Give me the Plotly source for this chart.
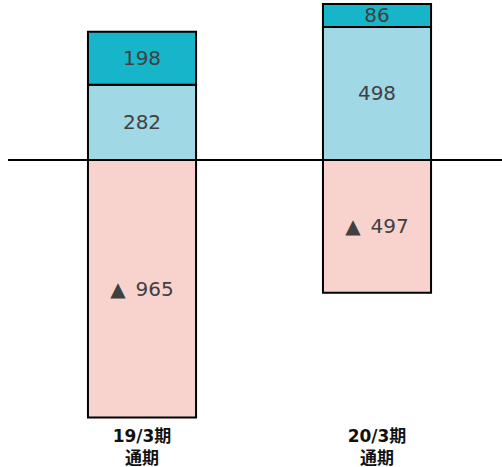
import plotly.graph_objects as go

categories = ["19/3期<br>通期", "20/3期<br>通期"]
neg_values = [-965, -497]
lower_values = [282, 498]
upper_values = [198, 86]

def fmt(v):
    return ("▲\u2002" + str(abs(v))) if v < 0 else str(v)

x = [0, 1]
common = dict(width=0.46, marker_line_color="#000000", marker_line_width=2,
              textposition="inside", insidetextanchor="middle", textangle=0,
              insidetextfont=dict(color="#404040", size=20, family="DejaVu Sans"),
              hoverinfo="skip")

fig = go.Figure()
fig.add_trace(go.Bar(x=x, y=neg_values, text=[fmt(v) for v in neg_values],
                     marker_color="#F8D3CE", **common))
fig.add_trace(go.Bar(x=x, y=lower_values, text=[fmt(v) for v in lower_values],
                     marker_color="#A0D8E6", **common))
fig.add_trace(go.Bar(x=x, y=upper_values, text=[fmt(v) for v in upper_values],
                     marker_color="#17B5C9", **common))

fig.add_shape(type="line", xref="paper", yref="y", x0=8/502, x1=1, y0=0, y1=0,
              line=dict(color="#000000", width=2), layer="above")

fig.update_layout(
    width=502, height=467, barmode="relative", showlegend=False,
    margin=dict(l=0, r=0, t=0, b=47),
    plot_bgcolor="white", paper_bgcolor="white",
    uniformtext=dict(minsize=20, mode="show"),
    xaxis=dict(range=[-0.6043, 1.5319], tickvals=x, automargin=False,
               ticktext=["<b>" + c + "</b>" for c in categories],
               showgrid=False, zeroline=False, showline=False, ticks="",
               ticklabelstandoff=4,
               tickfont=dict(family="DejaVu Sans, Noto Sans CJK JP", size=17, color="#111111")),
    yaxis=dict(range=[-974, 599], visible=False, showgrid=False, zeroline=False,
               automargin=False),
)
fig.write_html("out.html", config={"displayModeBar": False},
               post_script="document.body.style.margin='0';")
